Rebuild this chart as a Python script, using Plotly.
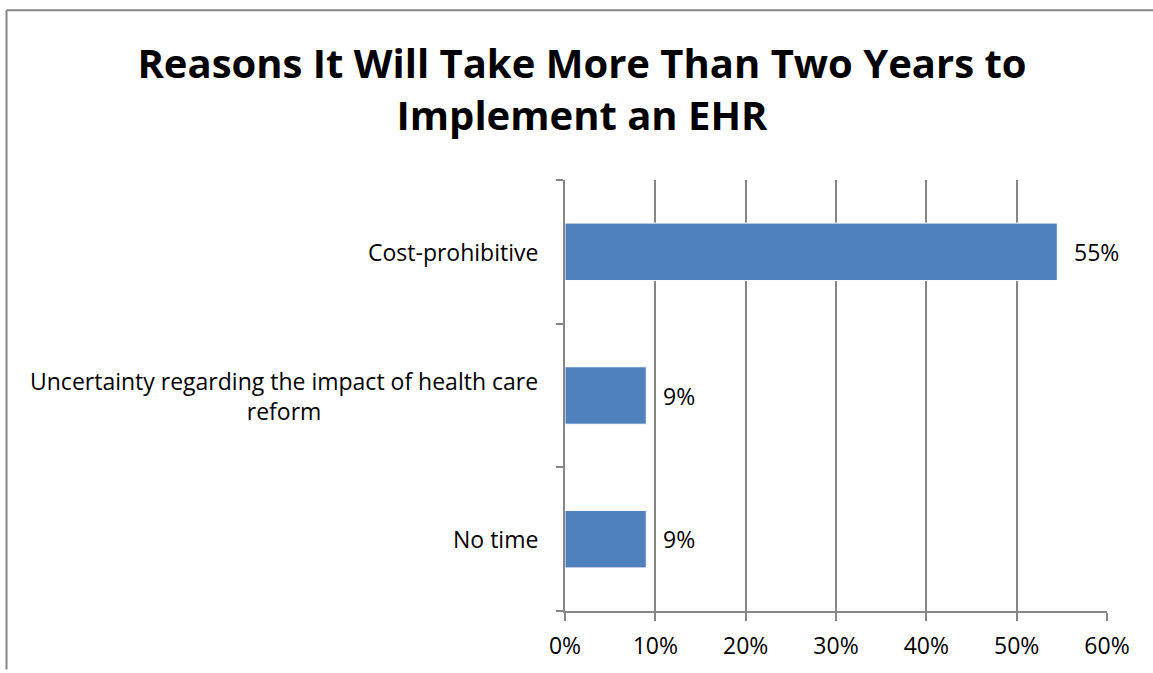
import plotly.graph_objects as go

categories = ["Cost-prohibitive",
              "Uncertainty regarding the impact of health care<br>reform",
              "No time"]
values = [0.545, 0.09, 0.09]
value_labels = ["55%", "9%", "9%"]
x_ticks = [0, 0.1, 0.2, 0.3, 0.4, 0.5, 0.6]
x_tick_labels = ["0%", "10%", "20%", "30%", "40%", "50%", "60%"]

FONT = "Open Sans"
W, H = 1153, 673
L, R, T, B = 565, 46, 180, 59
pw, ph = W - L - R, H - T - B
FS = 23

fig = go.Figure()
fig.add_trace(go.Bar(
    y=categories, x=values, orientation="h",
    marker=dict(color="#4F81BD", line=dict(color="#FFFFFF", width=1)),
    width=0.4, showlegend=False, hoverinfo="x+y",
))

annotations = []
for c in categories:
    annotations.append(dict(
        x=-25 / pw, xref="paper", y=c, yref="y",
        text=c, showarrow=False, xanchor="right", yanchor="middle",
        align="center", font=dict(family=FONT, size=FS, color="#000000"),
    ))
for c, v, t in zip(categories, values, value_labels):
    annotations.append(dict(
        x=v, xref="x", y=c, yref="y", text=t, showarrow=False,
        xanchor="left", yanchor="middle", xshift=15,
        font=dict(family=FONT, size=FS, color="#000000"),
    ))

top_y = (H - B - 9) / ph
left_x = (6.5 - L) / pw
shapes = [
    dict(type="line", xref="paper", yref="paper",
         x0=left_x, x1=(W - L) / pw, y0=top_y, y1=top_y,
         line=dict(color="#868686", width=2)),
    dict(type="line", xref="paper", yref="paper",
         x0=left_x, x1=left_x, y0=top_y, y1=-B / ph,
         line=dict(color="#868686", width=2)),
]

fig.update_layout(
    width=W, height=H,
    margin=dict(l=L, r=R, t=T, b=B),
    paper_bgcolor="white", plot_bgcolor="white",
    title=dict(
        text="<b>Reasons It Will Take More Than Two Years to<br>Implement an EHR</b>",
        x=582 / W, xanchor="center", xref="container",
        y=1 - 78 / H, yanchor="middle", yref="container",
        font=dict(family=FONT, size=40, color="#000000"),
    ),
    xaxis=dict(
        range=[0, 0.6], tickvals=x_ticks, ticktext=x_tick_labels,
        showgrid=True, gridcolor="#868686", gridwidth=1.5,
        showline=True, linecolor="#868686", linewidth=1.5,
        ticks="outside", ticklen=8, tickcolor="#868686", tickwidth=1.5,
        ticklabelstandoff=6,
        tickfont=dict(family=FONT, size=FS, color="#000000"),
        zeroline=False, fixedrange=True,
    ),
    yaxis=dict(
        categoryorder="array", categoryarray=categories[::-1],
        showticklabels=False, showgrid=False,
        showline=True, linecolor="#868686", linewidth=1.5,
        ticks="outside", ticklen=7, tickcolor="#868686", tickwidth=1.5,
        tickson="boundaries", zeroline=False, fixedrange=True,
    ),
    bargap=0.6,
    annotations=annotations,
    shapes=shapes,
)

fig.write_html(
    "out.html",
    config={"displayModeBar": False},
    post_script="document.body.style.margin='0';document.body.style.overflow='hidden';",
)
